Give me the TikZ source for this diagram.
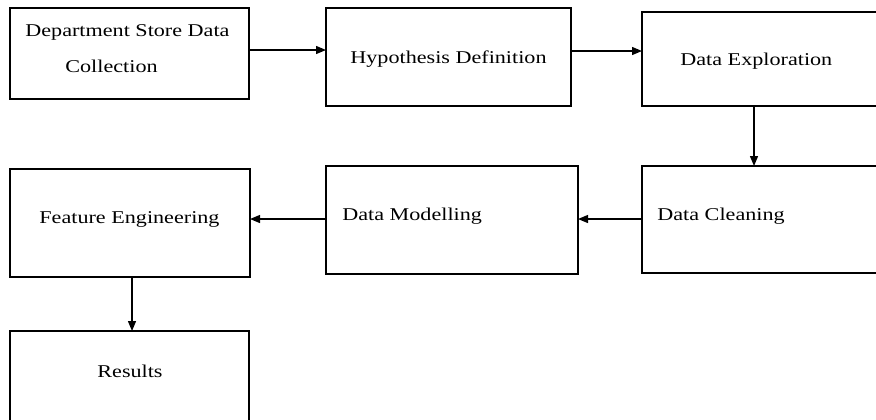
\documentclass[tikz,border=0pt]{standalone}
\usepackage{fontspec}
\setmainfont{Liberation Serif}[FakeStretch=1.23]
\usetikzlibrary{arrows.meta}

\begin{document}
\begin{tikzpicture}[x=0.5pt,y=-0.5pt,
	stepbox/.style={draw,line width=0.9pt,rectangle,anchor=north west,inner sep=0pt,outer sep=0pt},
	steptext/.style={anchor=base west,inner sep=0pt,font=\fontsize{9pt}{11pt}\selectfont},
	flow/.style={line width=0.65pt,-{Triangle[length=5pt,width=4pt]}}]
	\clip (0,0) rectangle (876,419);
	% boxes of the process
	\node[stepbox,minimum width=119.5pt,minimum height=45.5pt] (coll) at (10,8) {};
	\node[stepbox,minimum width=122.5pt,minimum height=49pt] (hyp) at (326,8) {};
	\node[stepbox,minimum width=130pt,minimum height=47pt] (explo) at (642,12) {};
	\node[stepbox,minimum width=130pt,minimum height=53.5pt] (clean) at (642,166) {};
	\node[stepbox,minimum width=126pt,minimum height=54pt] (model) at (326,166) {};
	\node[stepbox,minimum width=120pt,minimum height=54pt] (feat) at (10,169) {};
	\node[stepbox,minimum width=119.5pt,minimum height=55pt] (res) at (10,331) {};
	% texts
	\node[steptext] (colltxt) at (25,36) {Department Store Data};
	\node[steptext] (colltxtb) at (65,72) {Collection};
	\node[steptext] (hyptxt) at (350,63) {Hypothesis Definition};
	\node[steptext] (explotxt) at (680,65) {Data Exploration};
	\node[steptext] (cleantxt) at (657,220) {Data Cleaning};
	\node[steptext] (modeltxt) at (342,220) {Data Modelling};
	\node[steptext] (feattxt) at (39,223) {Feature Engineering};
	\node[steptext] (restxt) at (97,377) {Results};
	% arrows
	\draw[flow] (coll.east |- 0,50) -- (hyp.west |- 0,50);
	\draw[flow] (hyp.east |- 0,51) -- (explo.west |- 0,51);
	\draw[flow] (explo.south -| 754,0) -- (clean.north -| 754,0);
	\draw[flow] (clean.west |- 0,219) -- (model.east |- 0,219);
	\draw[flow] (model.west |- 0,219) -- (feat.east |- 0,219);
	\draw[flow] (feat.south -| 132,0) -- (res.north -| 132,0);
\end{tikzpicture}
\end{document}
